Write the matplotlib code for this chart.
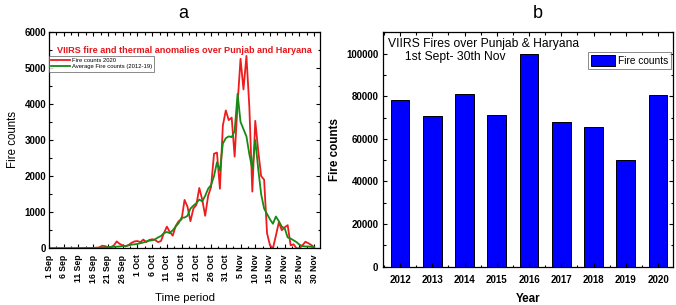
import matplotlib
matplotlib.use("Agg")
import matplotlib.pyplot as plt
import numpy as np
from matplotlib.ticker import MultipleLocator

plt.rcParams['font.family'] = ['Liberation Sans', 'DejaVu Sans']

# ---- Panel a data: daily fire counts, 1 Sep (day 0) to 30 Nov (day 90)
days = list(range(91))
fire_2020 = [0, 0, 0, 0, 0, 0, 0, 0, 0, 0,
             0, 0, 5, 5, 5, 10, 15, 20, 70, 60,
             30, 30, 80, 190, 120, 80, 50, 90, 150, 190,
             200, 170, 240, 170, 230, 250, 230, 170, 200, 420,
             600, 450, 350, 620, 750, 800, 1340, 1150, 750, 1100,
             1200, 1670, 1350, 900, 1450, 1700, 2620, 2650, 1650, 3400,
             3820, 3550, 3620, 2540, 4000, 5250, 4400, 5330, 3900, 1570,
             3530, 2700, 2000, 1900, 415, 80, 0, 350, 720, 500,
             580, 640, 80, 110, 0, 0, 80, 180, 140, 90,
             30]
fire_avg = [0, 0, 0, 0, 0, 0, 0, 0, 0, 0,
            5, 5, 5, 5, 5, 8, 10, 15, 20, 25,
            30, 35, 40, 45, 50, 60, 65, 80, 100, 110,
            120, 140, 160, 190, 210, 220, 250, 300, 340, 420,
            450, 420, 500, 600, 700, 850, 850, 900, 1100, 1180,
            1250, 1350, 1300, 1450, 1650, 1750, 2000, 2380, 2150, 2900,
            3050, 3100, 3080, 3250, 4280, 3500, 3300, 3100, 2600, 2200,
            3000, 2200, 1500, 1100, 950, 800, 680, 880, 750, 600,
            550, 300, 270, 220, 170, 100, 60, 50, 50, 40,
            30]
xtick_days = list(range(0, 91, 5))
xtick_labels = ['1 Sep', '6 Sep', '11 Sep', '16 Sep', '21 Sep', '26 Sep',
                '1 Oct', '6 Oct', '11 Oct', '16 Oct', '21 Oct', '26 Oct',
                '31 Oct', '5 Nov', '10 Nov', '15 Nov', '20 Nov', '25 Nov', '30 Nov']

# ---- Panel b data: total fire counts per season
years = [2012, 2013, 2014, 2015, 2016, 2017, 2018, 2019, 2020]
totals = [78400, 70800, 81100, 71250, 100000, 68000, 65600, 50300, 80800]

fig = plt.figure(figsize=(6.76, 3.05), dpi=100)

# ---------------- Panel a ----------------
ax1 = fig.add_axes([0.0725, 0.186, 0.401, 0.710])
ax1.plot(days, fire_2020, color='#ee1c1c', lw=1.3, label='Fire counts 2020')
ax1.plot(days, fire_avg, color='#158a15', lw=1.3, label='Average Fire counts (2012-19)')
ax1.set_xlim(0, 92)
ax1.set_ylim(0, 6000)
ax1.set_xticks(xtick_days)
ax1.set_xticklabels(xtick_labels, rotation=90, fontsize=6.2, fontweight='bold')
ax1.xaxis.set_minor_locator(MultipleLocator(2.5))
ax1.yaxis.set_major_locator(MultipleLocator(1000))
ax1.yaxis.set_minor_locator(MultipleLocator(500))
for lab in ax1.get_yticklabels():
    lab.set_fontweight('bold')
    lab.set_fontsize(7)
ax1.tick_params(which='both', direction='in', top=True, right=True, width=0.8)
ax1.tick_params(which='major', length=3)
ax1.tick_params(axis='y', which='major', pad=2)
ax1.tick_params(axis='x', which='major', pad=4.5)
ax1.tick_params(which='minor', length=1.8)
for s in ax1.spines.values():
    s.set_linewidth(0.9)
ax1.set_ylabel('Fire counts', fontsize=8.3, labelpad=4)
ax1.set_xlabel('Time period', fontsize=8.2, labelpad=7)
ax1.text(0.5, 0.915, 'VIIRS fire and thermal anomalies over Punjab and Haryana',
         transform=ax1.transAxes, ha='center', va='center', color='#e8161b',
         fontsize=6.6, fontweight='bold')
leg1 = ax1.legend(loc='upper left', bbox_to_anchor=(0.0, 0.89), fontsize=4.2,
                  frameon=True, fancybox=False, edgecolor='#555555',
                  handlelength=3.2, handletextpad=0.3, borderpad=0.4,
                  labelspacing=0.2, borderaxespad=0)
leg1.get_frame().set_linewidth(0.6)
fig.text(0.271, 0.955, 'a', ha='center', va='center', fontsize=13)

# ---------------- Panel b ----------------
ax2 = fig.add_axes([0.566, 0.1256, 0.4294, 0.7685])
ax2.bar(years, totals, width=0.58, color='#0000ff', edgecolor='black',
        linewidth=0.7, label='Fire counts')
ax2.set_xlim(2011.46, 2020.46)
ax2.set_ylim(0, 110000)
ax2.set_xticks(years)
ax2.xaxis.set_minor_locator(MultipleLocator(0.5))
ax2.yaxis.set_major_locator(MultipleLocator(20000))
ax2.yaxis.set_minor_locator(MultipleLocator(10000))
for lab in ax2.get_xticklabels() + ax2.get_yticklabels():
    lab.set_fontweight('bold')
    lab.set_fontsize(7)
ax2.tick_params(which='both', direction='in', top=True, right=True, width=0.8)
ax2.tick_params(which='major', length=3)
ax2.tick_params(axis='y', which='major', pad=3)
ax2.tick_params(axis='x', which='major', pad=6)
ax2.tick_params(which='minor', length=1.8)
for s in ax2.spines.values():
    s.set_linewidth(0.9)
ax2.set_ylabel('Fire counts', fontsize=8.4, fontweight='bold', labelpad=4)
ax2.set_xlabel('Year', fontsize=8.4, fontweight='bold', labelpad=6)
ax2.text(0.02, 0.975, 'VIIRS Fires over Punjab & Haryana\n     1st Sept- 30th Nov',
         transform=ax2.transAxes, ha='left', va='top', fontsize=8.7,
         linespacing=1.1)
leg2 = ax2.legend(loc='upper right', bbox_to_anchor=(0.993, 0.917), fontsize=7.3,
                  frameon=True, fancybox=False, edgecolor='#555555',
                  handlelength=2.4, handleheight=1.3, handletextpad=0.25,
                  borderpad=0.3, borderaxespad=0)
leg2.get_frame().set_linewidth(0.6)
fig.text(0.795, 0.955, 'b', ha='center', va='center', fontsize=13)

fig.savefig('out.png', dpi=100)
